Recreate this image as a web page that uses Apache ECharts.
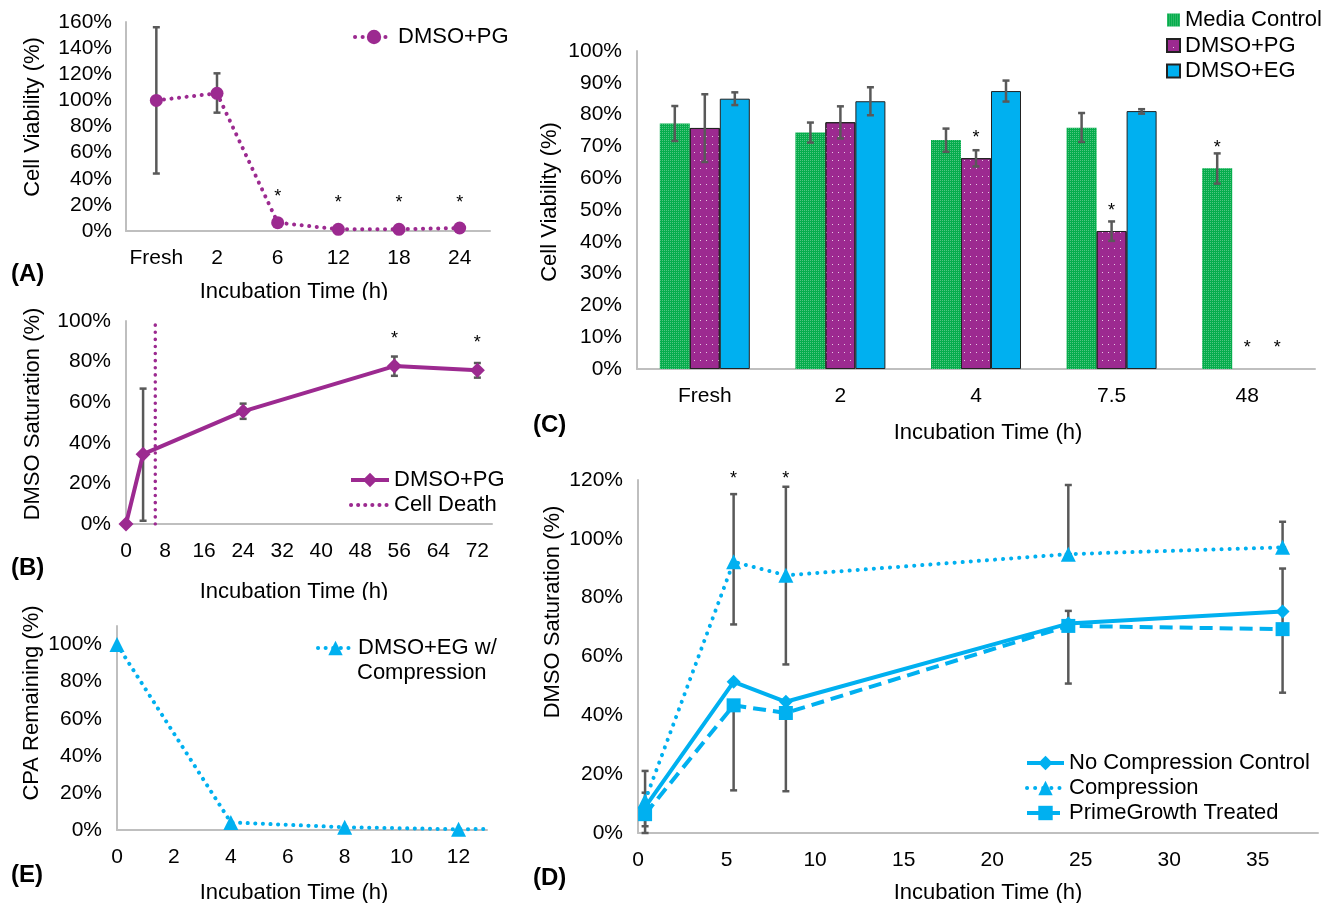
<!DOCTYPE html>
<html>
<head>
<meta charset="utf-8">
<script src="https://cdn.jsdelivr.net/npm/echarts@6/dist/echarts.min.js"></script>
<style>
  html, body { margin: 0; background: #fff; }
  #wrap { position: relative; width: 1336px; height: 903px; }
  .panel { position: absolute; }
</style>
</head>
<body>
<div id="wrap">
  <div id="pa" class="panel" style="left:0;top:0;width:520px;height:300px"></div>
  <div id="pb" class="panel" style="left:0;top:300px;width:520px;height:300px"></div>
  <div id="pe" class="panel" style="left:0;top:600px;width:520px;height:303px"></div>
  <div id="pc" class="panel" style="left:520px;top:0;width:816px;height:450px"></div>
  <div id="pd" class="panel" style="left:520px;top:450px;width:816px;height:453px"></div>
</div>
<script>
// (A) cell viability, DMSO+PG
var aCats = ['Fresh', '2', '6', '12', '18', '24'];
var aPG = [100, 105.4, 6.4, 1.3, 1.3, 2.3];
var aLow = [44, 90.6, null, null, null, null];
var aHigh = [156, 120.7, null, null, null, null];
var aStar = [null, null, 29.3, 24.5, 24.5, 24.5];

// (B) DMSO saturation, DMSO+PG
var bTime = [0, 3.5, 24, 55, 72];
var bPG = [0, 34.4, 55.5, 77.8, 75.7];
var bLow = [null, 1.6, 51.8, 73, 72.1];
var bHigh = [null, 66.7, 59.3, 82.5, 79.3];
var bDeath = [[6, 0], [6, 100]];
var bStarTime = [55, 72];
var bStar = [93.2, 90.9];

// (E) CPA remaining, DMSO+EG w/ compression
var eTime = [0, 4, 8, 12, 13];
var eEG = [100, 4.1, 1.5, 0.4, 0.6];
var eMarker = [true, true, true, true, false];

// (C) cell viability bars
var cCats = ['Fresh', '2', '4', '7.5', '48'];
var cMedia = [77.2, 74.4, 72.0, 75.9, 63.1];
var cMediaLow = [71.7, 71.2, 68.3, 71.4, 58.3];
var cMediaHigh = [82.7, 77.5, 75.6, 80.5, 67.8];
var cPG = [75.8, 77.6, 66.3, 43.4, 0];
var cPGLow = [65.1, 72.5, 63.7, 40.3, null];
var cPGHigh = [86.4, 82.6, 68.8, 46.4, null];
var cEG = [85.0, 84.2, 87.4, 81.1, 0];
var cEGLow = [83.0, 79.8, 84.1, 80.3, null];
var cEGHigh = [87.0, 88.6, 90.7, 81.7, null];
var cStarMedia = [null, null, null, null, 70.9];
var cStarPG = [null, null, 73.8, 51.0, 7.8];
var cStarEG = [null, null, null, null, 7.8];

// (D) DMSO saturation with / without compression
var dTime = [0.4, 5.4, 8.35, 24.3, 36.4];
var dNoComp = [8.8, 51.4, 44.6, 71.2, 75.3];
var dComp = [11, 92.2, 87.6, 94.8, 97.1];
var dPrime = [6.4, 43.4, 40.8, 70.4, 69.3];
var dNoCompLow = [null, null, null, 50.8, null];
var dNoCompHigh = [null, null, null, 75.5, null];
var dCompLow = [2.3, 70.9, 57.3, 94.8, 97.1];
var dCompHigh = [21.1, 115.2, 117.7, 118.3, 105.8];
var dPrimeLow = [0, 14.5, 14.2, null, 47.7];
var dPrimeHigh = [13.7, 43.4, 40.8, null, 89.9];
var dStar = [null, 121.7, 121.7, null, null];

var FONT = '"Liberation Sans", Arial, sans-serif';
var PG = '#9c2a90';
var EG = '#00b0f0';
var MEDIA = '#06ad4c';
var AXIS = '#bfbfbf';
var ERR = '#595959';
var BAR_W = 30;

function pct(v) { return v + '%'; }

function axis(extra, labelExtra) {
    var a = {
        axisLine: { show: true, lineStyle: { color: AXIS, width: 2 } },
        axisTick: { show: false },
        splitLine: { show: false },
        axisLabel: { color: '#000', fontSize: 21, fontFamily: FONT, margin: 16 }
    };
    for (var k in extra) a[k] = extra[k];
    for (var j in (labelExtra || {})) a.axisLabel[j] = labelExtra[j];
    return a;
}

function pairs(xs, ys) {
    return xs.map(function (x, i) { return [x, ys[i]]; });
}

// error bars drawn through the axes, offset in px for grouped bars
function errorBars(xs, lows, highs, offset, z) {
    var data = [];
    xs.forEach(function (x, i) {
        if (lows[i] != null) data.push([x, lows[i], highs[i]]);
    });
    return {
        type: 'custom', silent: true, z: z, data: data,
        renderItem: function (params, api) {
            var lo = api.coord([api.value(0), api.value(1)]);
            var hi = api.coord([api.value(0), api.value(2)]);
            var x = lo[0] + offset;
            var st = { stroke: ERR, lineWidth: 2.5 };
            return {
                type: 'group', children: [
                    { type: 'line', shape: { x1: x, y1: lo[1], x2: x, y2: hi[1] }, style: st },
                    { type: 'line', shape: { x1: x - 3.5, y1: lo[1], x2: x + 3.5, y2: lo[1] }, style: st },
                    { type: 'line', shape: { x1: x - 3.5, y1: hi[1], x2: x + 3.5, y2: hi[1] }, style: st }
                ]
            };
        }
    };
}

// significance asterisks
function stars(xs, ys, offset) {
    var data = [];
    xs.forEach(function (x, i) { if (ys[i] != null) data.push([x, ys[i]]); });
    return {
        type: 'custom', silent: true, z: 5, data: data,
        renderItem: function (params, api) {
            var p = api.coord([api.value(0), api.value(1)]);
            return {
                type: 'text', x: p[0] + offset, y: p[1] + 4,
                style: { text: '*', textAlign: 'center', textVerticalAlign: 'middle', font: '18px ' + FONT, fill: '#000' }
            };
        }
    };
}

function txt(text, x, y, opt) {
    opt = opt || {};
    return {
        type: 'text', x: x, y: y, rotation: opt.rot || 0, silent: true,
        style: {
            text: text, fill: '#000',
            textAlign: opt.align || 'center', textVerticalAlign: 'middle',
            font: (opt.bold ? 'bold ' : '') + (opt.size || 22) + 'px ' + FONT
        }
    };
}

function legend(extra) {
    var l = {
        orient: 'vertical', padding: 0, itemGap: 3, itemWidth: 38, itemHeight: 18,
        selectedMode: false,
        lineStyle: { width: 4 },
        textStyle: { color: '#000', fontSize: 22, fontFamily: FONT }
    };
    for (var k in extra) l[k] = extra[k];
    return l;
}

function grid(left, top, width, height) {
    return { left: left, top: top, width: width, height: height, containLabel: false, outerBoundsMode: 'none' };
}

function dots(color, width, gap) {
    return { color: color, width: width, type: [0.1, gap], cap: 'round' };
}

var aIdx = aCats.map(function (c, i) { return i; });
var optA = {
    animation: false,
    grid: grid(126, 22, 364, 209),
    xAxis: axis({ type: 'category', data: aCats, boundaryGap: true }, { margin: 17, interval: 0 }),
    yAxis: axis({ type: 'value', min: 0, max: 160, interval: 20 }, { formatter: pct, margin: 14 }),
    legend: legend({ left: 353, top: 26, data: ['DMSO+PG'] }),
    graphic: { elements: [
        txt('(A)', 11, 274, { align: 'left', bold: true, size: 24 }),
        txt('Cell Viability (%)', 33, 117, { rot: Math.PI / 2 }),
        txt('Incubation Time (h)', 294, 292)
    ] },
    series: [
        errorBars(aIdx, aLow, aHigh, 0, 1),
        {
            name: 'DMSO+PG', type: 'line', z: 2, data: aPG,
            symbol: 'circle', symbolSize: 13,
            itemStyle: { color: PG },
            lineStyle: dots(PG, 4, 7.5)
        },
        stars(aIdx, aStar, 0)
    ]
};

var optB = {
    animation: false,
    grid: grid(126, 21, 366, 203),
    xAxis: axis({ type: 'value', min: 0, max: 75, interval: 8 }, { margin: 17, showMaxLabel: false }),
    yAxis: axis({ type: 'value', min: 0, max: 100, interval: 20 }, { formatter: pct, margin: 15 }),
    legend: legend({ left: 349, top: 169, data: ['DMSO+PG', { name: 'Cell Death', itemStyle: { opacity: 0 } }] }),
    graphic: { elements: [
        txt('(B)', 11, 268, { align: 'left', bold: true, size: 24 }),
        txt('DMSO Saturation (%)', 33, 114, { rot: Math.PI / 2 }),
        txt('Incubation Time (h)', 294, 292)
    ] },
    series: [
        errorBars(bTime, bLow, bHigh, 0, 1),
        {
            name: 'DMSO+PG', type: 'line', z: 3, data: pairs(bTime, bPG),
            symbol: 'diamond', symbolSize: 15,
            itemStyle: { color: PG },
            lineStyle: { color: PG, width: 4 }
        },
        {
            name: 'Cell Death', type: 'line', z: 2, data: bDeath,
            symbol: 'none', itemStyle: { color: PG },
            lineStyle: dots(PG, 3.5, 7)
        },
        stars(bStarTime, bStar, 0)
    ]
};

var optE = {
    animation: false,
    grid: grid(117, 26, 370, 204),
    xAxis: axis({ type: 'value', min: 0, max: 13, interval: 2 }, { margin: 17, showMaxLabel: false }),
    yAxis: axis({ type: 'value', min: 0, max: 110, interval: 20 }, { formatter: pct, margin: 15, showMaxLabel: false }),
    legend: legend({ left: 316, top: 37, itemWidth: 35, data: ['DMSO+EG w/ Compression'],
        formatter: function () { return 'DMSO+EG w/'; } }),
    graphic: { elements: [
        txt('Compression', 357, 73, { align: 'left' }),
        txt('(E)', 11, 275, { align: 'left', bold: true, size: 24 }),
        txt('CPA Remaining (%)', 32, 103, { rot: Math.PI / 2 }),
        txt('Incubation Time (h)', 294, 293)
    ] },
    series: [
        {
            name: 'DMSO+EG w/ Compression', type: 'line', data: eTime.map(function (t, i) {
                return { value: [t, eEG[i]], symbol: eMarker[i] ? 'triangle' : 'none' };
            }),
            symbol: 'triangle', symbolSize: 15,
            itemStyle: { color: EG },
            lineStyle: dots(EG, 4, 7.5)
        }
    ]
};

function barData(vals) {
    return vals.map(function (v) {
        return v === 0 ? { value: v, itemStyle: { borderWidth: 0 } } : v;
    });
}

var cIdx = cCats.map(function (c, i) { return i; });
var optC = {
    animation: false,
    grid: grid(117, 51, 678, 318),
    xAxis: axis({ type: 'category', data: cCats, boundaryGap: true }, { margin: 17, interval: 0 }),
    yAxis: axis({ type: 'value', min: 0, max: 100, interval: 10 }, { formatter: pct, margin: 15 }),
    legend: legend({ left: 646, top: 9, icon: 'rect', itemWidth: 13, itemHeight: 13, itemGap: 3.5,
        data: ['Media Control', 'DMSO+PG', 'DMSO+EG'] }),
    graphic: { elements: [
        txt('(C)', 13, 425, { align: 'left', bold: true, size: 24 }),
        txt('Cell Viability (%)', 30, 202, { rot: Math.PI / 2 }),
        txt('Incubation Time (h)', 468, 433)
    ] },
    series: [
        {
            name: 'Media Control', type: 'bar', data: barData(cMedia), barWidth: BAR_W, barGap: 0,
            itemStyle: {
                color: MEDIA,
                decal: { symbol: 'rect', symbolSize: 1, dashArrayX: [1, 1], dashArrayY: [1, 1], color: 'rgba(255,255,255,0.3)' }
            }
        },
        {
            name: 'DMSO+PG', type: 'bar', data: barData(cPG), barWidth: BAR_W, barGap: 0,
            itemStyle: {
                color: PG, borderColor: '#222', borderWidth: 1,
                decal: { symbol: 'rect', symbolSize: 1, dashArrayX: [1, 5], dashArrayY: [1, 7], color: 'rgba(255,255,255,0.75)' }
            }
        },
        {
            name: 'DMSO+EG', type: 'bar', data: barData(cEG), barWidth: BAR_W, barGap: 0,
            itemStyle: { color: EG, borderColor: '#222', borderWidth: 1 }
        },
        errorBars(cIdx, cMediaLow, cMediaHigh, -BAR_W, 3),
        errorBars(cIdx, cPGLow, cPGHigh, 0, 3),
        errorBars(cIdx, cEGLow, cEGHigh, BAR_W, 3),
        stars(cIdx, cStarMedia, -BAR_W),
        stars(cIdx, cStarPG, 0),
        stars(cIdx, cStarEG, BAR_W)
    ]
};

var optD = {
    animation: false,
    grid: grid(118, 30, 680, 353),
    xAxis: axis({ type: 'value', min: 0, max: 38.4, interval: 5 }, { margin: 17, showMaxLabel: false }),
    yAxis: axis({ type: 'value', min: 0, max: 120, interval: 20 }, { formatter: pct, margin: 15 }),
    legend: legend({ left: 505, top: 302, itemWidth: 37, itemGap: 3,
        data: ['No Compression Control', 'Compression', 'PrimeGrowth Treated'] }),
    graphic: { elements: [
        txt('(D)', 13, 428, { align: 'left', bold: true, size: 24 }),
        txt('DMSO Saturation (%)', 33, 162, { rot: Math.PI / 2 }),
        txt('Incubation Time (h)', 468, 443)
    ] },
    series: [
        errorBars(dTime, dNoCompLow, dNoCompHigh, 0, 1),
        errorBars(dTime, dCompLow, dCompHigh, 0, 1),
        errorBars(dTime, dPrimeLow, dPrimeHigh, 0, 1),
        {
            name: 'No Compression Control', type: 'line', z: 3, data: pairs(dTime, dNoComp),
            symbol: 'diamond', symbolSize: 14,
            itemStyle: { color: EG }, lineStyle: { color: EG, width: 4 }
        },
        {
            name: 'Compression', type: 'line', z: 3, data: pairs(dTime, dComp),
            symbol: 'triangle', symbolSize: 15,
            itemStyle: { color: EG }, lineStyle: dots(EG, 4, 8)
        },
        {
            name: 'PrimeGrowth Treated', type: 'line', z: 3, data: pairs(dTime, dPrime),
            symbol: 'rect', symbolSize: 14,
            itemStyle: { color: EG }, lineStyle: { color: EG, width: 4, type: [13, 7] }
        },
        stars(dTime, dStar, 0)
    ]
};

[['pa', optA], ['pb', optB], ['pe', optE], ['pc', optC], ['pd', optD]].forEach(function (p) {
    var chart = echarts.init(document.getElementById(p[0]), null, { renderer: 'canvas' });
    chart.setOption(p[1]);
});
</script>
</body>
</html>
